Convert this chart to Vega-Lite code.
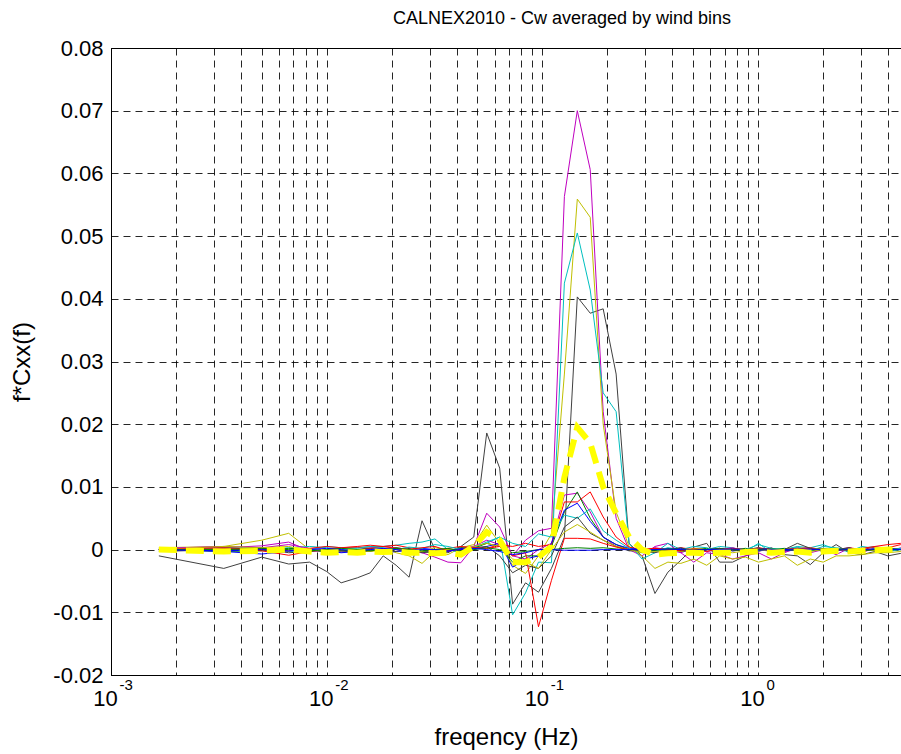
{
"$schema": "https://vega.github.io/schema/vega-lite/v6.json",
"width": 790, "height": 627,
"autosize": {"type": "none"},
"padding": {"left": 111, "top": 48, "right": 0, "bottom": 79},
"background": "white",
"config": {"font": "Liberation Sans", "view": {"stroke": "black", "strokeWidth": 1}},
"title": {"text": "CALNEX2010 - Cw averaged by wind bins", "fontSize": 18, "fontWeight": "normal", "font": "Liberation Sans", "color": "black", "anchor": "middle", "offset": 9, "dx": 56},
"resolve": {"axis": {"x": "independent"}},
"datasets": {"d": [
{"f":0.001667,"s":"k1","v":-0.001},{"f":0.003333,"s":"k1","v":-0.003},{"f":0.005,"s":"k1","v":-0.0012},{"f":0.006667,"s":"k1","v":-0.0023},{"f":0.008333,"s":"k1","v":-0.002},{"f":0.01,"s":"k1","v":-0.0035},{"f":0.011667,"s":"k1","v":-0.0053},
{"f":0.01387,"s":"k1","v":-0.0045},{"f":0.01592,"s":"k1","v":-0.0037},{"f":0.01828,"s":"k1","v":-0.001},{"f":0.02099,"s":"k1","v":-0.0025},{"f":0.0241,"s":"k1","v":-0.0044},{"f":0.02767,"s":"k1","v":0.0046},{"f":0.03177,"s":"k1","v":0},{"f":0.03648,"s":"k1","v":-0.0005},{"f":0.04188,"s":"k1","v":0.0005},{"f":0.04808,"s":"k1","v":0.002},{"f":0.05521,"s":"k1","v":0.0186},{"f":0.06339,"s":"k1","v":0.013},{"f":0.07278,"s":"k1","v":-0.0087},{"f":0.08356,"s":"k1","v":-0.0053},{"f":0.09594,"s":"k1","v":-0.0068},{"f":0.1102,"s":"k1","v":-0.003},{"f":0.1265,"s":"k1","v":0.002},
{"f":0.1452,"s":"k1","v":0.0403},{"f":0.1667,"s":"k1","v":0.0377},{"f":0.1914,"s":"k1","v":0.0384},{"f":0.2198,"s":"k1","v":0.028},{"f":0.2523,"s":"k1","v":0.001},
{"f":0.2897,"s":"k1","v":-0.001},{"f":0.3327,"s":"k1","v":-0.007},{"f":0.3819,"s":"k1","v":-0.0036},{"f":0.4385,"s":"k1","v":-0.0017},{"f":0.5035,"s":"k1","v":0.0004},{"f":0.5781,"s":"k1","v":0.001},{"f":0.6637,"s":"k1","v":-0.002},{"f":0.7621,"s":"k1","v":-0.002},{"f":0.875,"s":"k1","v":-0.001},{"f":1.0046,"s":"k1","v":-0.0003},{"f":1.153,"s":"k1","v":0.0003},{"f":1.324,"s":"k1","v":-0.0008},{"f":1.521,"s":"k1","v":-0.001},{"f":1.746,"s":"k1","v":-0.0024},{"f":2.004,"s":"k1","v":-0.0005},{"f":2.301,"s":"k1","v":0.0008},{"f":2.642,"s":"k1","v":-0.0005},{"f":3.034,"s":"k1","v":-0.0008},{"f":3.483,"s":"k1","v":-0.0003},{"f":3.999,"s":"k1","v":-0.001},{"f":4.592,"s":"k1","v":-0.0006},

{"f":0.001667,"s":"m1","v":0},{"f":0.003333,"s":"m1","v":0.0003},{"f":0.005,"s":"m1","v":0.0006},{"f":0.006667,"s":"m1","v":0.0012},{"f":0.008333,"s":"m1","v":-0.0002},{"f":0.01,"s":"m1","v":-0.0003},{"f":0.011667,"s":"m1","v":-0.0004},
{"f":0.01387,"s":"m1","v":-0.0002},{"f":0.01592,"s":"m1","v":0.0002},{"f":0.01828,"s":"m1","v":0.0005},{"f":0.02099,"s":"m1","v":0.0003},{"f":0.0241,"s":"m1","v":0},{"f":0.02767,"s":"m1","v":-0.0005},{"f":0.03177,"s":"m1","v":-0.0012},{"f":0.03648,"s":"m1","v":-0.002},{"f":0.04188,"s":"m1","v":-0.0021},{"f":0.04808,"s":"m1","v":0.0005},{"f":0.05521,"s":"m1","v":0.0058},{"f":0.06339,"s":"m1","v":0.0036},{"f":0.07278,"s":"m1","v":-0.001},{"f":0.08356,"s":"m1","v":0.0015},{"f":0.09594,"s":"m1","v":0.003},{"f":0.1102,"s":"m1","v":0.0034},{"f":0.1265,"s":"m1","v":0.0563},
{"f":0.1452,"s":"m1","v":0.07},{"f":0.1667,"s":"m1","v":0.0606},{"f":0.1914,"s":"m1","v":0.022},{"f":0.2198,"s":"m1","v":0.005},{"f":0.2523,"s":"m1","v":0},
{"f":0.2897,"s":"m1","v":-0.001},{"f":0.3327,"s":"m1","v":0.0005},{"f":0.3819,"s":"m1","v":0.001},{"f":0.4385,"s":"m1","v":-0.0005},{"f":0.5035,"s":"m1","v":-0.002},{"f":0.5781,"s":"m1","v":-0.0005},{"f":0.6637,"s":"m1","v":-0.0008},{"f":0.7621,"s":"m1","v":-0.0015},{"f":0.875,"s":"m1","v":-0.001},{"f":1.0046,"s":"m1","v":-0.0005},{"f":1.153,"s":"m1","v":-0.0015},{"f":1.324,"s":"m1","v":-0.0005},{"f":1.521,"s":"m1","v":0.0003},{"f":1.746,"s":"m1","v":-0.0005},{"f":2.004,"s":"m1","v":0},{"f":2.301,"s":"m1","v":-0.0008},{"f":2.642,"s":"m1","v":0.0002},{"f":3.034,"s":"m1","v":-0.0005},{"f":3.483,"s":"m1","v":0.0003},{"f":3.999,"s":"m1","v":-0.0003},{"f":4.592,"s":"m1","v":0.0003},

{"f":0.001667,"s":"y1","v":0.0003},{"f":0.003333,"s":"y1","v":0.0005},{"f":0.005,"s":"y1","v":0.0015},{"f":0.006667,"s":"y1","v":0.0026},{"f":0.008333,"s":"y1","v":0},{"f":0.01,"s":"y1","v":-0.0003},{"f":0.011667,"s":"y1","v":-0.0002},
{"f":0.01387,"s":"y1","v":0},{"f":0.01592,"s":"y1","v":-0.0003},{"f":0.01828,"s":"y1","v":0.0002},{"f":0.02099,"s":"y1","v":-0.0005},{"f":0.0241,"s":"y1","v":-0.001},{"f":0.02767,"s":"y1","v":-0.0022},{"f":0.03177,"s":"y1","v":-0.0003},{"f":0.03648,"s":"y1","v":-0.0008},{"f":0.04188,"s":"y1","v":0.0003},{"f":0.04808,"s":"y1","v":0.0008},{"f":0.05521,"s":"y1","v":0.0039},{"f":0.06339,"s":"y1","v":0.001},{"f":0.07278,"s":"y1","v":-0.0025},{"f":0.08356,"s":"y1","v":-0.0038},{"f":0.09594,"s":"y1","v":-0.001},{"f":0.1102,"s":"y1","v":0.0025},{"f":0.1265,"s":"y1","v":0.028},
{"f":0.1452,"s":"y1","v":0.0559},{"f":0.1667,"s":"y1","v":0.053},{"f":0.1914,"s":"y1","v":0.02},{"f":0.2198,"s":"y1","v":0.006},{"f":0.2523,"s":"y1","v":0.0005},
{"f":0.2897,"s":"y1","v":-0.001},{"f":0.3327,"s":"y1","v":-0.003},{"f":0.3819,"s":"y1","v":-0.002},{"f":0.4385,"s":"y1","v":-0.0022},{"f":0.5035,"s":"y1","v":-0.0015},{"f":0.5781,"s":"y1","v":-0.0025},{"f":0.6637,"s":"y1","v":-0.001},{"f":0.7621,"s":"y1","v":-0.0015},{"f":0.875,"s":"y1","v":-0.0012},{"f":1.0046,"s":"y1","v":-0.002},{"f":1.153,"s":"y1","v":-0.0015},{"f":1.324,"s":"y1","v":-0.001},{"f":1.521,"s":"y1","v":-0.0025},{"f":1.746,"s":"y1","v":-0.0015},{"f":2.004,"s":"y1","v":-0.002},{"f":2.301,"s":"y1","v":-0.001},{"f":2.642,"s":"y1","v":-0.001},{"f":3.034,"s":"y1","v":-0.0008},{"f":3.483,"s":"y1","v":-0.0005},{"f":3.999,"s":"y1","v":-0.0005},{"f":4.592,"s":"y1","v":-0.0003},

{"f":0.001667,"s":"c1","v":0},{"f":0.003333,"s":"c1","v":0.0002},{"f":0.005,"s":"c1","v":0},{"f":0.006667,"s":"c1","v":0.0003},{"f":0.008333,"s":"c1","v":0.0005},{"f":0.01,"s":"c1","v":0.0003},{"f":0.011667,"s":"c1","v":0},
{"f":0.01387,"s":"c1","v":0.0003},{"f":0.01592,"s":"c1","v":0.0005},{"f":0.01828,"s":"c1","v":0.0005},{"f":0.02099,"s":"c1","v":0.0007},{"f":0.0241,"s":"c1","v":0.001},{"f":0.02767,"s":"c1","v":0.0012},{"f":0.03177,"s":"c1","v":0.0017},{"f":0.03648,"s":"c1","v":0},{"f":0.04188,"s":"c1","v":-0.0005},{"f":0.04808,"s":"c1","v":0.0005},{"f":0.05521,"s":"c1","v":0.001},{"f":0.06339,"s":"c1","v":0.002},{"f":0.07278,"s":"c1","v":-0.0104},{"f":0.08356,"s":"c1","v":-0.0069},{"f":0.09594,"s":"c1","v":-0.002},{"f":0.1102,"s":"c1","v":-0.0021},{"f":0.1265,"s":"c1","v":0.0425},
{"f":0.1452,"s":"c1","v":0.0505},{"f":0.1667,"s":"c1","v":0.0414},{"f":0.1914,"s":"c1","v":0.025},{"f":0.2198,"s":"c1","v":0.022},{"f":0.2523,"s":"c1","v":0.001},
{"f":0.2897,"s":"c1","v":-0.0015},{"f":0.3327,"s":"c1","v":-0.0005},{"f":0.3819,"s":"c1","v":0.001},{"f":0.4385,"s":"c1","v":0},{"f":0.5035,"s":"c1","v":-0.0005},{"f":0.5781,"s":"c1","v":0},{"f":0.6637,"s":"c1","v":0.0005},{"f":0.7621,"s":"c1","v":0.0003},{"f":0.875,"s":"c1","v":-0.0003},{"f":1.0046,"s":"c1","v":0.001},{"f":1.153,"s":"c1","v":-0.0005},{"f":1.324,"s":"c1","v":0},{"f":1.521,"s":"c1","v":0.0005},{"f":1.746,"s":"c1","v":0.0003},{"f":2.004,"s":"c1","v":0.0008},{"f":2.301,"s":"c1","v":0},{"f":2.642,"s":"c1","v":-0.0003},{"f":3.034,"s":"c1","v":0.0005},{"f":3.483,"s":"c1","v":0.0002},{"f":3.999,"s":"c1","v":-0.0003},{"f":4.592,"s":"c1","v":0},

{"f":0.001667,"s":"m2","v":0.0002},{"f":0.003333,"s":"m2","v":0.0005},{"f":0.005,"s":"m2","v":0.0003},{"f":0.006667,"s":"m2","v":0.0008},{"f":0.008333,"s":"m2","v":0.0002},{"f":0.01,"s":"m2","v":0},{"f":0.011667,"s":"m2","v":-0.0002},
{"f":0.01387,"s":"m2","v":0},{"f":0.01592,"s":"m2","v":0.0003},{"f":0.01828,"s":"m2","v":0.0002},{"f":0.02099,"s":"m2","v":0},{"f":0.0241,"s":"m2","v":-0.0003},{"f":0.02767,"s":"m2","v":-0.0005},{"f":0.03177,"s":"m2","v":0},{"f":0.03648,"s":"m2","v":-0.0003},{"f":0.04188,"s":"m2","v":0.0002},{"f":0.04808,"s":"m2","v":0.0005},{"f":0.05521,"s":"m2","v":0.0015},{"f":0.06339,"s":"m2","v":0.0008},{"f":0.07278,"s":"m2","v":-0.001},{"f":0.08356,"s":"m2","v":-0.0015},{"f":0.09594,"s":"m2","v":0},{"f":0.1102,"s":"m2","v":0.001},{"f":0.1265,"s":"m2","v":0.0087},
{"f":0.1452,"s":"m2","v":0.009},{"f":0.1667,"s":"m2","v":0.006},{"f":0.1914,"s":"m2","v":0.002},{"f":0.2198,"s":"m2","v":0.0005},{"f":0.2523,"s":"m2","v":0},
{"f":0.2897,"s":"m2","v":-0.0003},{"f":0.3327,"s":"m2","v":0.0003},{"f":0.3819,"s":"m2","v":0},{"f":0.4385,"s":"m2","v":-0.0005},{"f":0.5035,"s":"m2","v":0.0002},{"f":0.5781,"s":"m2","v":-0.0003},{"f":0.6637,"s":"m2","v":0},{"f":0.7621,"s":"m2","v":0.0003},{"f":0.875,"s":"m2","v":-0.0002},{"f":1.0046,"s":"m2","v":0},{"f":1.153,"s":"m2","v":0.0002},{"f":1.324,"s":"m2","v":-0.0003},{"f":1.521,"s":"m2","v":0},{"f":1.746,"s":"m2","v":0.0002},{"f":2.004,"s":"m2","v":-0.0002},{"f":2.301,"s":"m2","v":0},{"f":2.642,"s":"m2","v":0.0003},{"f":3.034,"s":"m2","v":-0.0002},{"f":3.483,"s":"m2","v":0},{"f":3.999,"s":"m2","v":0.0002},{"f":4.592,"s":"m2","v":0},

{"f":0.001667,"s":"g1","v":0},{"f":0.003333,"s":"g1","v":-0.0003},{"f":0.005,"s":"g1","v":-0.0002},{"f":0.006667,"s":"g1","v":0.0002},{"f":0.008333,"s":"g1","v":0},{"f":0.01,"s":"g1","v":-0.0004},{"f":0.011667,"s":"g1","v":-0.0002},
{"f":0.01387,"s":"g1","v":0},{"f":0.01592,"s":"g1","v":0.0002},{"f":0.01828,"s":"g1","v":-0.0002},{"f":0.02099,"s":"g1","v":0.0003},{"f":0.0241,"s":"g1","v":0},{"f":0.02767,"s":"g1","v":-0.0003},{"f":0.03177,"s":"g1","v":-0.0005},{"f":0.03648,"s":"g1","v":-0.0002},{"f":0.04188,"s":"g1","v":0.0003},{"f":0.04808,"s":"g1","v":0.0002},{"f":0.05521,"s":"g1","v":0.001},{"f":0.06339,"s":"g1","v":0.0005},{"f":0.07278,"s":"g1","v":-0.002},{"f":0.08356,"s":"g1","v":-0.001},{"f":0.09594,"s":"g1","v":-0.001},{"f":0.1102,"s":"g1","v":0.0005},{"f":0.1265,"s":"g1","v":0.006},
{"f":0.1452,"s":"g1","v":0.0092},{"f":0.1667,"s":"g1","v":0.005},{"f":0.1914,"s":"g1","v":0.002},{"f":0.2198,"s":"g1","v":0.0008},{"f":0.2523,"s":"g1","v":0},
{"f":0.2897,"s":"g1","v":-0.0003},{"f":0.3327,"s":"g1","v":0},{"f":0.3819,"s":"g1","v":0.0002},{"f":0.4385,"s":"g1","v":-0.0003},{"f":0.5035,"s":"g1","v":0},{"f":0.5781,"s":"g1","v":0.0002},{"f":0.6637,"s":"g1","v":-0.0002},{"f":0.7621,"s":"g1","v":0},{"f":0.875,"s":"g1","v":0.0002},{"f":1.0046,"s":"g1","v":-0.0001},{"f":1.153,"s":"g1","v":0},{"f":1.324,"s":"g1","v":0.0002},{"f":1.521,"s":"g1","v":0},{"f":1.746,"s":"g1","v":-0.0002},{"f":2.004,"s":"g1","v":0.0001},{"f":2.301,"s":"g1","v":0},{"f":2.642,"s":"g1","v":0.0002},{"f":3.034,"s":"g1","v":0},{"f":3.483,"s":"g1","v":-0.0001},{"f":3.999,"s":"g1","v":0.0001},{"f":4.592,"s":"g1","v":0},

{"f":0.001667,"s":"r1","v":0},{"f":0.003333,"s":"r1","v":0.0002},{"f":0.005,"s":"r1","v":-0.0002},{"f":0.006667,"s":"r1","v":-0.0009},{"f":0.008333,"s":"r1","v":-0.0003},{"f":0.01,"s":"r1","v":0},{"f":0.011667,"s":"r1","v":0.0003},
{"f":0.01387,"s":"r1","v":0.0004},{"f":0.01592,"s":"r1","v":0.0002},{"f":0.01828,"s":"r1","v":0.0005},{"f":0.02099,"s":"r1","v":0.0007},{"f":0.0241,"s":"r1","v":0.0003},{"f":0.02767,"s":"r1","v":0},{"f":0.03177,"s":"r1","v":-0.0003},{"f":0.03648,"s":"r1","v":0.0002},{"f":0.04188,"s":"r1","v":0.0005},{"f":0.04808,"s":"r1","v":0.0003},{"f":0.05521,"s":"r1","v":0.0002},{"f":0.06339,"s":"r1","v":0.0008},{"f":0.07278,"s":"r1","v":0.0005},{"f":0.08356,"s":"r1","v":0.001},{"f":0.09594,"s":"r1","v":0.0005},{"f":0.1102,"s":"r1","v":0.0008},{"f":0.1265,"s":"r1","v":0.0076},
{"f":0.1452,"s":"r1","v":0.0076},{"f":0.1667,"s":"r1","v":0.0092},{"f":0.1914,"s":"r1","v":0.0052},{"f":0.2198,"s":"r1","v":0.002},{"f":0.2523,"s":"r1","v":0.0004},
{"f":0.2897,"s":"r1","v":0},{"f":0.3327,"s":"r1","v":0.0002},{"f":0.3819,"s":"r1","v":-0.0002},{"f":0.4385,"s":"r1","v":0.0003},{"f":0.5035,"s":"r1","v":0},{"f":0.5781,"s":"r1","v":-0.0003},{"f":0.6637,"s":"r1","v":0.0002},{"f":0.7621,"s":"r1","v":0},{"f":0.875,"s":"r1","v":-0.0002},{"f":1.0046,"s":"r1","v":0.0003},{"f":1.153,"s":"r1","v":0},{"f":1.324,"s":"r1","v":-0.0002},{"f":1.521,"s":"r1","v":0.0002},{"f":1.746,"s":"r1","v":0.0003},{"f":2.004,"s":"r1","v":0},{"f":2.301,"s":"r1","v":-0.0002},{"f":2.642,"s":"r1","v":0.0003},{"f":3.034,"s":"r1","v":0},{"f":3.483,"s":"r1","v":0.0004},{"f":3.999,"s":"r1","v":0.0003},{"f":4.592,"s":"r1","v":0.0008},

{"f":0.001667,"s":"b1","v":0},{"f":0.003333,"s":"b1","v":-0.0003},{"f":0.005,"s":"b1","v":-0.0007},{"f":0.006667,"s":"b1","v":-0.0003},{"f":0.008333,"s":"b1","v":0},{"f":0.01,"s":"b1","v":-0.0002},{"f":0.011667,"s":"b1","v":-0.0005},
{"f":0.01387,"s":"b1","v":-0.0003},{"f":0.01592,"s":"b1","v":0},{"f":0.01828,"s":"b1","v":-0.0005},{"f":0.02099,"s":"b1","v":-0.0003},{"f":0.0241,"s":"b1","v":-0.0002},{"f":0.02767,"s":"b1","v":0.0002},{"f":0.03177,"s":"b1","v":0},{"f":0.03648,"s":"b1","v":-0.0003},{"f":0.04188,"s":"b1","v":0.0002},{"f":0.04808,"s":"b1","v":0},{"f":0.05521,"s":"b1","v":0.0005},{"f":0.06339,"s":"b1","v":0.001},{"f":0.07278,"s":"b1","v":-0.0028},{"f":0.08356,"s":"b1","v":-0.0015},{"f":0.09594,"s":"b1","v":-0.001},{"f":0.1102,"s":"b1","v":0.001},{"f":0.1265,"s":"b1","v":0.0063},
{"f":0.1452,"s":"b1","v":0.0074},{"f":0.1667,"s":"b1","v":0.0045},{"f":0.1914,"s":"b1","v":0.002},{"f":0.2198,"s":"b1","v":0.0008},{"f":0.2523,"s":"b1","v":0.0002},
{"f":0.2897,"s":"b1","v":0},{"f":0.3327,"s":"b1","v":-0.0003},{"f":0.3819,"s":"b1","v":0},{"f":0.4385,"s":"b1","v":0.0002},{"f":0.5035,"s":"b1","v":-0.0002},{"f":0.5781,"s":"b1","v":0},{"f":0.6637,"s":"b1","v":0.0002},{"f":0.7621,"s":"b1","v":-0.0002},{"f":0.875,"s":"b1","v":0},{"f":1.0046,"s":"b1","v":0.0002},{"f":1.153,"s":"b1","v":0},{"f":1.324,"s":"b1","v":-0.0002},{"f":1.521,"s":"b1","v":0},{"f":1.746,"s":"b1","v":0.0001},{"f":2.004,"s":"b1","v":-0.0001},{"f":2.301,"s":"b1","v":0},{"f":2.642,"s":"b1","v":0.0002},{"f":3.034,"s":"b1","v":0},{"f":3.483,"s":"b1","v":-0.0001},{"f":3.999,"s":"b1","v":0},{"f":4.592,"s":"b1","v":0.0001},

{"f":0.001667,"s":"c2","v":0},{"f":0.003333,"s":"c2","v":0.0003},{"f":0.005,"s":"c2","v":0.0002},{"f":0.006667,"s":"c2","v":-0.0003},{"f":0.008333,"s":"c2","v":0},{"f":0.01,"s":"c2","v":0.0005},{"f":0.011667,"s":"c2","v":0.0003},
{"f":0.01387,"s":"c2","v":0.0002},{"f":0.01592,"s":"c2","v":0.0005},{"f":0.01828,"s":"c2","v":0.0003},{"f":0.02099,"s":"c2","v":0},{"f":0.0241,"s":"c2","v":0.0004},{"f":0.02767,"s":"c2","v":0.0002},{"f":0.03177,"s":"c2","v":0.0008},{"f":0.03648,"s":"c2","v":0.0005},{"f":0.04188,"s":"c2","v":0},{"f":0.04808,"s":"c2","v":0.0003},{"f":0.05521,"s":"c2","v":0.0012},{"f":0.06339,"s":"c2","v":0.002},{"f":0.07278,"s":"c2","v":0.001},{"f":0.08356,"s":"c2","v":0.0005},{"f":0.09594,"s":"c2","v":0.0025},{"f":0.1102,"s":"c2","v":0.002},{"f":0.1265,"s":"c2","v":0.0055},
{"f":0.1452,"s":"c2","v":0.005},{"f":0.1667,"s":"c2","v":0.0065},{"f":0.1914,"s":"c2","v":0.003},{"f":0.2198,"s":"c2","v":0.0015},{"f":0.2523,"s":"c2","v":0.0002},
{"f":0.2897,"s":"c2","v":-0.0005},{"f":0.3327,"s":"c2","v":-0.0003},{"f":0.3819,"s":"c2","v":0.0003},{"f":0.4385,"s":"c2","v":0},{"f":0.5035,"s":"c2","v":0.0005},{"f":0.5781,"s":"c2","v":0.0003},{"f":0.6637,"s":"c2","v":-0.0003},{"f":0.7621,"s":"c2","v":0.0002},{"f":0.875,"s":"c2","v":0},{"f":1.0046,"s":"c2","v":0.0008},{"f":1.153,"s":"c2","v":0.0002},{"f":1.324,"s":"c2","v":0},{"f":1.521,"s":"c2","v":0.0004},{"f":1.746,"s":"c2","v":-0.0002},{"f":2.004,"s":"c2","v":0.0005},{"f":2.301,"s":"c2","v":0.0003},{"f":2.642,"s":"c2","v":0},{"f":3.034,"s":"c2","v":0.0002},{"f":3.483,"s":"c2","v":0.0005},{"f":3.999,"s":"c2","v":0},{"f":4.592,"s":"c2","v":0.0002},

{"f":0.001667,"s":"k2","v":-0.0003},{"f":0.003333,"s":"k2","v":0},{"f":0.005,"s":"k2","v":0.0002},{"f":0.006667,"s":"k2","v":-0.0005},{"f":0.008333,"s":"k2","v":-0.0003},{"f":0.01,"s":"k2","v":0},{"f":0.011667,"s":"k2","v":-0.0002},
{"f":0.01387,"s":"k2","v":-0.0005},{"f":0.01592,"s":"k2","v":-0.0002},{"f":0.01828,"s":"k2","v":0},{"f":0.02099,"s":"k2","v":-0.0003},{"f":0.0241,"s":"k2","v":0.0002},{"f":0.02767,"s":"k2","v":-0.0005},{"f":0.03177,"s":"k2","v":-0.0003},{"f":0.03648,"s":"k2","v":0},{"f":0.04188,"s":"k2","v":-0.0002},{"f":0.04808,"s":"k2","v":0.0003},{"f":0.05521,"s":"k2","v":0.0005},{"f":0.06339,"s":"k2","v":-0.001},{"f":0.07278,"s":"k2","v":-0.0037},{"f":0.08356,"s":"k2","v":-0.0025},{"f":0.09594,"s":"k2","v":-0.003},{"f":0.1102,"s":"k2","v":-0.001},{"f":0.1265,"s":"k2","v":0.0036},
{"f":0.1452,"s":"k2","v":0.0052},{"f":0.1667,"s":"k2","v":0.0026},{"f":0.1914,"s":"k2","v":0.0015},{"f":0.2198,"s":"k2","v":0.0005},{"f":0.2523,"s":"k2","v":-0.0002},
{"f":0.2897,"s":"k2","v":-0.0002},{"f":0.3327,"s":"k2","v":-0.0005},{"f":0.3819,"s":"k2","v":0},{"f":0.4385,"s":"k2","v":0.0003},{"f":0.5035,"s":"k2","v":-0.0003},{"f":0.5781,"s":"k2","v":0},{"f":0.6637,"s":"k2","v":0.0002},{"f":0.7621,"s":"k2","v":-0.0002},{"f":0.875,"s":"k2","v":0},{"f":1.0046,"s":"k2","v":0.0003},{"f":1.153,"s":"k2","v":-0.0003},{"f":1.324,"s":"k2","v":0},{"f":1.521,"s":"k2","v":0.001},{"f":1.746,"s":"k2","v":0.0002},{"f":2.004,"s":"k2","v":-0.0003},{"f":2.301,"s":"k2","v":0},{"f":2.642,"s":"k2","v":0.0003},{"f":3.034,"s":"k2","v":-0.0002},{"f":3.483,"s":"k2","v":0},{"f":3.999,"s":"k2","v":0.0002},{"f":4.592,"s":"k2","v":0},

{"f":0.001667,"s":"y2","v":0},{"f":0.003333,"s":"y2","v":0.0005},{"f":0.005,"s":"y2","v":0.0003},{"f":0.006667,"s":"y2","v":0.0005},{"f":0.008333,"s":"y2","v":-0.0002},{"f":0.01,"s":"y2","v":0},{"f":0.011667,"s":"y2","v":0.0002},
{"f":0.01387,"s":"y2","v":0},{"f":0.01592,"s":"y2","v":-0.0003},{"f":0.01828,"s":"y2","v":0},{"f":0.02099,"s":"y2","v":0.0002},{"f":0.0241,"s":"y2","v":-0.0005},{"f":0.02767,"s":"y2","v":-0.0003},{"f":0.03177,"s":"y2","v":0.0003},{"f":0.03648,"s":"y2","v":0},{"f":0.04188,"s":"y2","v":-0.0003},{"f":0.04808,"s":"y2","v":0.0005},{"f":0.05521,"s":"y2","v":0.001},{"f":0.06339,"s":"y2","v":0.0005},{"f":0.07278,"s":"y2","v":-0.0015},{"f":0.08356,"s":"y2","v":-0.002},{"f":0.09594,"s":"y2","v":-0.003},{"f":0.1102,"s":"y2","v":0},{"f":0.1265,"s":"y2","v":0.0028},
{"f":0.1452,"s":"y2","v":0.004},{"f":0.1667,"s":"y2","v":0.0028},{"f":0.1914,"s":"y2","v":0.0015},{"f":0.2198,"s":"y2","v":0.0005},{"f":0.2523,"s":"y2","v":0},
{"f":0.2897,"s":"y2","v":-0.0005},{"f":0.3327,"s":"y2","v":-0.0003},{"f":0.3819,"s":"y2","v":0},{"f":0.4385,"s":"y2","v":-0.0003},{"f":0.5035,"s":"y2","v":0.0002},{"f":0.5781,"s":"y2","v":0},{"f":0.6637,"s":"y2","v":-0.0003},{"f":0.7621,"s":"y2","v":-0.0005},{"f":0.875,"s":"y2","v":-0.0002},{"f":1.0046,"s":"y2","v":0},{"f":1.153,"s":"y2","v":-0.0003},{"f":1.324,"s":"y2","v":0},{"f":1.521,"s":"y2","v":0.0002},{"f":1.746,"s":"y2","v":-0.0003},{"f":2.004,"s":"y2","v":0},{"f":2.301,"s":"y2","v":-0.0002},{"f":2.642,"s":"y2","v":0},{"f":3.034,"s":"y2","v":0.0002},{"f":3.483,"s":"y2","v":-0.0002},{"f":3.999,"s":"y2","v":0},{"f":4.592,"s":"y2","v":0},

{"f":0.001667,"s":"r2","v":0},{"f":0.003333,"s":"r2","v":0.0003},{"f":0.005,"s":"r2","v":0},{"f":0.006667,"s":"r2","v":-0.0002},{"f":0.008333,"s":"r2","v":0.0002},{"f":0.01,"s":"r2","v":0.0005},{"f":0.011667,"s":"r2","v":0.0003},
{"f":0.01387,"s":"r2","v":0.0005},{"f":0.01592,"s":"r2","v":0.0007},{"f":0.01828,"s":"r2","v":0.0005},{"f":0.02099,"s":"r2","v":0.0002},{"f":0.0241,"s":"r2","v":0},{"f":0.02767,"s":"r2","v":0.0003},{"f":0.03177,"s":"r2","v":0.0005},{"f":0.03648,"s":"r2","v":-0.0002},{"f":0.04188,"s":"r2","v":0},{"f":0.04808,"s":"r2","v":0.0003},{"f":0.05521,"s":"r2","v":0.0002},{"f":0.06339,"s":"r2","v":0.0005},{"f":0.07278,"s":"r2","v":-0.001},{"f":0.08356,"s":"r2","v":-0.0005},{"f":0.09594,"s":"r2","v":-0.0123},{"f":0.1102,"s":"r2","v":-0.0049},{"f":0.1265,"s":"r2","v":0.0018},
{"f":0.1452,"s":"r2","v":0.0018},{"f":0.1667,"s":"r2","v":0.0017},{"f":0.1914,"s":"r2","v":0.001},{"f":0.2198,"s":"r2","v":0.0004},{"f":0.2523,"s":"r2","v":0},
{"f":0.2897,"s":"r2","v":0},{"f":0.3327,"s":"r2","v":0.0002},{"f":0.3819,"s":"r2","v":0},{"f":0.4385,"s":"r2","v":-0.0002},{"f":0.5035,"s":"r2","v":0.0001},{"f":0.5781,"s":"r2","v":0},{"f":0.6637,"s":"r2","v":-0.0002},{"f":0.7621,"s":"r2","v":0.0002},{"f":0.875,"s":"r2","v":0},{"f":1.0046,"s":"r2","v":0.0001},{"f":1.153,"s":"r2","v":-0.0001},{"f":1.324,"s":"r2","v":0},{"f":1.521,"s":"r2","v":0.0002},{"f":1.746,"s":"r2","v":0},{"f":2.004,"s":"r2","v":0.0001},{"f":2.301,"s":"r2","v":-0.0001},{"f":2.642,"s":"r2","v":0},{"f":3.034,"s":"r2","v":0.0002},{"f":3.483,"s":"r2","v":0.0005},{"f":3.999,"s":"r2","v":0.0008},{"f":4.592,"s":"r2","v":0.001},

{"f":0.001667,"s":"g2","v":0},{"f":0.003333,"s":"g2","v":0},{"f":0.005,"s":"g2","v":0.0002},{"f":0.006667,"s":"g2","v":0},{"f":0.008333,"s":"g2","v":-0.0002},{"f":0.01,"s":"g2","v":0},{"f":0.011667,"s":"g2","v":0.0002},
{"f":0.01387,"s":"g2","v":0},{"f":0.01592,"s":"g2","v":-0.0002},{"f":0.01828,"s":"g2","v":0},{"f":0.02099,"s":"g2","v":0.0002},{"f":0.0241,"s":"g2","v":0},{"f":0.02767,"s":"g2","v":-0.0002},{"f":0.03177,"s":"g2","v":0},{"f":0.03648,"s":"g2","v":0.0002},{"f":0.04188,"s":"g2","v":-0.0002},{"f":0.04808,"s":"g2","v":0},{"f":0.05521,"s":"g2","v":0.0003},{"f":0.06339,"s":"g2","v":0},{"f":0.07278,"s":"g2","v":-0.0005},{"f":0.08356,"s":"g2","v":-0.0003},{"f":0.09594,"s":"g2","v":0},{"f":0.1102,"s":"g2","v":0},{"f":0.1265,"s":"g2","v":0.0002},
{"f":0.1452,"s":"g2","v":0.0003},{"f":0.1667,"s":"g2","v":0.0002},{"f":0.1914,"s":"g2","v":0.0003},{"f":0.2198,"s":"g2","v":0.0001},{"f":0.2523,"s":"g2","v":0},
{"f":0.2897,"s":"g2","v":0},{"f":0.3327,"s":"g2","v":-0.0001},{"f":0.3819,"s":"g2","v":0.0001},{"f":0.4385,"s":"g2","v":0},{"f":0.5035,"s":"g2","v":-0.0001},{"f":0.5781,"s":"g2","v":0},{"f":0.6637,"s":"g2","v":0.0001},{"f":0.7621,"s":"g2","v":0},{"f":0.875,"s":"g2","v":-0.0001},{"f":1.0046,"s":"g2","v":0},{"f":1.153,"s":"g2","v":0.0001},{"f":1.324,"s":"g2","v":0},{"f":1.521,"s":"g2","v":-0.0001},{"f":1.746,"s":"g2","v":0},{"f":2.004,"s":"g2","v":0.0001},{"f":2.301,"s":"g2","v":0},{"f":2.642,"s":"g2","v":0},{"f":3.034,"s":"g2","v":-0.0001},{"f":3.483,"s":"g2","v":0},{"f":3.999,"s":"g2","v":0.0001},{"f":4.592,"s":"g2","v":0},

{"f":0.001667,"s":"b2","v":0},{"f":0.003333,"s":"b2","v":-0.0002},{"f":0.005,"s":"b2","v":0},{"f":0.006667,"s":"b2","v":-0.0002},{"f":0.008333,"s":"b2","v":0},{"f":0.01,"s":"b2","v":0.0002},{"f":0.011667,"s":"b2","v":0},
{"f":0.01387,"s":"b2","v":-0.0002},{"f":0.01592,"s":"b2","v":0},{"f":0.01828,"s":"b2","v":0.0002},{"f":0.02099,"s":"b2","v":0},{"f":0.0241,"s":"b2","v":-0.0002},{"f":0.02767,"s":"b2","v":0},{"f":0.03177,"s":"b2","v":0},{"f":0.03648,"s":"b2","v":-0.0002},{"f":0.04188,"s":"b2","v":0},{"f":0.04808,"s":"b2","v":0.0002},{"f":0.05521,"s":"b2","v":0},{"f":0.06339,"s":"b2","v":-0.0003},{"f":0.07278,"s":"b2","v":-0.0008},{"f":0.08356,"s":"b2","v":-0.0005},{"f":0.09594,"s":"b2","v":0},{"f":0.1102,"s":"b2","v":0},{"f":0.1265,"s":"b2","v":-0.0001},
{"f":0.1452,"s":"b2","v":-0.0001},{"f":0.1667,"s":"b2","v":-0.0001},{"f":0.1914,"s":"b2","v":0},{"f":0.2198,"s":"b2","v":0},{"f":0.2523,"s":"b2","v":0},
{"f":0.2897,"s":"b2","v":0},{"f":0.3327,"s":"b2","v":0},{"f":0.3819,"s":"b2","v":0.0001},{"f":0.4385,"s":"b2","v":0},{"f":0.5035,"s":"b2","v":-0.0001},{"f":0.5781,"s":"b2","v":0},{"f":0.6637,"s":"b2","v":0},{"f":0.7621,"s":"b2","v":0.0001},{"f":0.875,"s":"b2","v":0},{"f":1.0046,"s":"b2","v":-0.0001},{"f":1.153,"s":"b2","v":0},{"f":1.324,"s":"b2","v":0},{"f":1.521,"s":"b2","v":0.0001},{"f":1.746,"s":"b2","v":0},{"f":2.004,"s":"b2","v":0},{"f":2.301,"s":"b2","v":-0.0001},{"f":2.642,"s":"b2","v":0},{"f":3.034,"s":"b2","v":0},{"f":3.483,"s":"b2","v":0.0001},{"f":3.999,"s":"b2","v":0},{"f":4.592,"s":"b2","v":0},

{"f":0.001667,"s":"mean","v":0},{"f":0.003333,"s":"mean","v":-0.0003},{"f":0.005,"s":"mean","v":-0.0002},{"f":0.006667,"s":"mean","v":0},{"f":0.008333,"s":"mean","v":-0.0003},{"f":0.01,"s":"mean","v":-0.0005},{"f":0.011667,"s":"mean","v":-0.0004},
{"f":0.01387,"s":"mean","v":-0.0005},{"f":0.01592,"s":"mean","v":-0.0003},{"f":0.01828,"s":"mean","v":-0.0004},{"f":0.02099,"s":"mean","v":-0.0003},{"f":0.0241,"s":"mean","v":-0.0005},{"f":0.02767,"s":"mean","v":-0.0005},{"f":0.03177,"s":"mean","v":-0.0006},{"f":0.03648,"s":"mean","v":-0.0005},{"f":0.04188,"s":"mean","v":-0.0008},{"f":0.04808,"s":"mean","v":0.0005},{"f":0.05521,"s":"mean","v":0.0028},{"f":0.06339,"s":"mean","v":0.0015},{"f":0.07278,"s":"mean","v":-0.002},{"f":0.08356,"s":"mean","v":-0.002},{"f":0.09594,"s":"mean","v":-0.0012},{"f":0.1102,"s":"mean","v":0.0005},{"f":0.1265,"s":"mean","v":0.0115},
{"f":0.1452,"s":"mean","v":0.0195},{"f":0.1667,"s":"mean","v":0.017},{"f":0.1914,"s":"mean","v":0.01},{"f":0.2198,"s":"mean","v":0.0058},{"f":0.2523,"s":"mean","v":0.002},
{"f":0.2897,"s":"mean","v":0},{"f":0.3327,"s":"mean","v":-0.0008},{"f":0.3819,"s":"mean","v":-0.0006},{"f":0.4385,"s":"mean","v":-0.0005},{"f":0.5035,"s":"mean","v":-0.0005},{"f":0.5781,"s":"mean","v":-0.0006},{"f":0.6637,"s":"mean","v":-0.0005},{"f":0.7621,"s":"mean","v":-0.0005},{"f":0.875,"s":"mean","v":-0.0004},{"f":1.0046,"s":"mean","v":-0.0003},{"f":1.153,"s":"mean","v":-0.0005},{"f":1.324,"s":"mean","v":-0.0004},{"f":1.521,"s":"mean","v":-0.0003},{"f":1.746,"s":"mean","v":-0.0005},{"f":2.004,"s":"mean","v":-0.0003},{"f":2.301,"s":"mean","v":-0.0002},{"f":2.642,"s":"mean","v":-0.0003},{"f":3.034,"s":"mean","v":-0.0002},{"f":3.483,"s":"mean","v":-0.0001},{"f":3.999,"s":"mean","v":0},{"f":4.592,"s":"mean","v":0}
]},
"layer": [
{"data": {"name": "d"},
 "transform": [{"filter": "datum.s != 'mean'"}],
 "mark": {"type": "line", "strokeWidth": 1, "clip": true},
 "encoding": {
  "x": {"field": "f", "type": "quantitative", "title": "freqency (Hz)",
   "scale": {"type": "log", "domain": [0.001, 4.6], "nice": false},
   "axis": {"orient": "bottom", "values": [0.001,0.002,0.003,0.004,0.005,0.006,0.007,0.008,0.009,0.01,0.02,0.03,0.04,0.05,0.06,0.07,0.08,0.09,0.1,0.2,0.3,0.4,0.5,0.6,0.7,0.8,0.9,1,2,3,4],
    "labelExpr": "datum.value == 0.001 || datum.value == 0.01 || datum.value == 0.1 || datum.value == 1 ? '10' : ''",
    "grid": true, "gridColor": "#000000", "gridDash": [7, 5], "gridWidth": 1, "gridOpacity": 0.85,
    "ticks": false, "domain": true, "domainColor": "#000000", "domainWidth": 1,
    "labelFont": "Liberation Sans", "labelFontSize": 22, "labelColor": "#000000", "labelPadding": 13, "labelOffset": -6,
    "labelFlush": false, "labelOverlap": false, "labelBound": false,
    "titleFont": "Liberation Sans", "titleFontSize": 24, "titleFontWeight": "normal", "titleColor": "#000000", "titlePadding": 16}},
  "y": {"field": "v", "type": "quantitative", "title": "f*Cxx(f)",
   "scale": {"domain": [-0.02, 0.08], "nice": false, "zero": false},
   "axis": {"values": [-0.02,-0.01,0,0.01,0.02,0.03,0.04,0.05,0.06,0.07,0.08],
    "labelExpr": "datum.value == 0 ? '0' : (datum.value < 0 ? '-' : '') + format(abs(datum.value), '.2f')",
    "grid": true, "gridColor": "#000000", "gridDash": [7, 5], "gridWidth": 1, "gridOpacity": 0.85,
    "ticks": false, "domain": true, "domainColor": "#000000", "domainWidth": 1,
    "labelFont": "Liberation Sans", "labelFontSize": 22, "labelColor": "#000000", "labelPadding": 8,
    "labelFlush": false, "labelOverlap": false, "labelBound": false,
    "titleFont": "Liberation Sans", "titleFontSize": 24, "titleFontWeight": "normal", "titleColor": "#000000", "titlePadding": 18}},
  "color": {"field": "s", "type": "nominal", "legend": null,
   "scale": {"domain": ["b1","g1","r1","c1","m1","y1","k1","b2","g2","r2","c2","m2","y2","k2"],
    "range": ["#0000ff","#008000","#ff0000","#00bfbf","#bf00bf","#bfbf00","#404040","#0000ff","#008000","#ff0000","#00bfbf","#bf00bf","#bfbf00","#404040"]}}
 }},
{"data": {"name": "d"},
 "transform": [{"filter": "datum.s == 'mean'"}],
 "mark": {"type": "line", "strokeWidth": 6, "color": "#ffff00", "strokeDash": [18, 9], "strokeCap": "butt", "clip": true},
 "encoding": {
  "x": {"field": "f", "type": "quantitative", "title": null,
   "axis": {"orient": "bottom", "values": [0.001, 0.01, 0.1, 1],
    "labelExpr": "datum.value == 0.001 ? '-3' : datum.value == 0.01 ? '-2' : datum.value == 0.1 ? '-1' : '0'",
    "grid": false, "ticks": false, "domain": false,
    "labelFont": "Liberation Sans", "labelFontSize": 15, "labelColor": "#000000", "labelPadding": 2, "labelOffset": 8, "labelAlign": "left",
    "labelFlush": false, "labelOverlap": false, "labelBound": false}},
  "y": {"field": "v", "type": "quantitative"}
 }}
]
}
